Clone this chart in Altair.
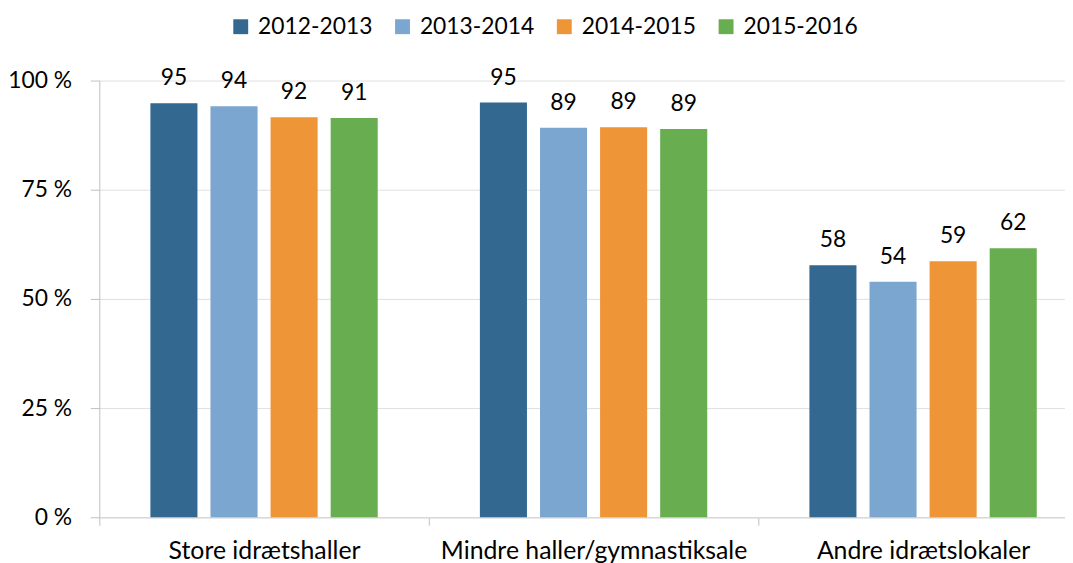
import altair as alt
import pandas as pd

categories = ["Store idrætshaller", "Mindre haller/gymnastiksale", "Andre idrætslokaler"]
seasons = ["2012-2013", "2013-2014", "2014-2015", "2015-2016"]
values_2012 = [94.8, 95.0, 57.7]
values_2013 = [94.1, 89.2, 53.9]
values_2014 = [91.6, 89.3, 58.6]
values_2015 = [91.4, 88.9, 61.6]
colors = ["#336991", "#7aa6cf", "#ee9537", "#68ad4f"]
y_ticks = [0, 25, 50, 75, 100]

series = [values_2012, values_2013, values_2014, values_2015]
rows = []
for s, vals in zip(seasons, series):
    for c, v in zip(categories, vals):
        rows.append({"category": c, "season": s, "value": v})
df = pd.DataFrame(rows)

FONT = "Lato"
FS = 23

x_enc = alt.X(
    "category:N", sort=categories,
    scale=alt.Scale(range=[0, 996], paddingInner=0, paddingOuter=0),
    axis=alt.Axis(title=None, labelAngle=0, tickBand="extent", grid=False,
                  domainColor="#d9d9d9", domainWidth=1.5, tickColor="#bfbfbf",
                  tickSize=8, labelPadding=14, labelFontSize=25, labelFont=FONT,
                  labelColor="#000000", labelLimit=0),
)
xo_enc = alt.XOffset("season:N", sort=seasons,
                     scale=alt.Scale(paddingInner=0.2167, paddingOuter=0.85))
y_enc = alt.Y(
    "value:Q", scale=alt.Scale(domain=[0, 100], nice=False),
    axis=alt.Axis(title=None, values=y_ticks, labelExpr="datum.value + ' %'",
                  grid=True, gridColor="#e0e0e0", domainColor="#bfbfbf",
                  tickColor="#bfbfbf", tickSize=9, labelPadding=19,
                  labelFontSize=FS, labelFont=FONT, labelColor="#000000"),
)

bars = alt.Chart(df).mark_bar().encode(
    x=x_enc, xOffset=xo_enc, y=y_enc,
    color=alt.Color("season:N", sort=seasons,
                    scale=alt.Scale(domain=seasons, range=colors),
                    legend=alt.Legend(title=None, orient="none", legendX=131, legendY=-66,
                                      direction="horizontal", symbolType="square",
                                      symbolSize=225, symbolStrokeWidth=0,
                                      labelFontSize=FS, labelFont=FONT, labelColor="#000000",
                                      columnPadding=18, labelOffset=6, padding=0)),
)

labels = alt.Chart(df).mark_text(dy=-18, baseline="alphabetic", fontSize=FS,
                                 font=FONT, color="#000000").encode(
    x=x_enc, xOffset=xo_enc, y=y_enc,
    text=alt.Text("value:Q", format=".0f"),
)

chart = alt.layer(bars, labels).properties(
    width=973, height=440,
    autosize=alt.AutoSizeParams(type="none"),
    padding={"left": 92, "top": 71, "right": 0, "bottom": 44},
).configure_view(stroke=None)

chart.save("out.html", embed_options={"renderer": "svg", "actions": False})
